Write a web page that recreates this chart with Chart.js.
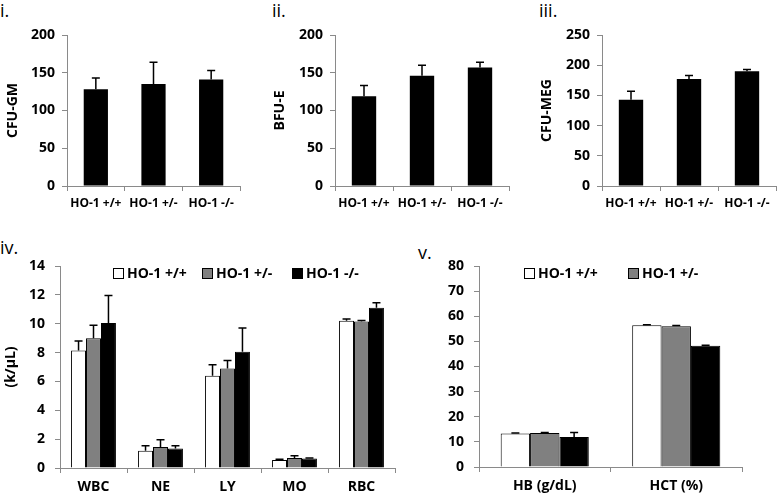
<!DOCTYPE html>
<html>
<head>
<meta charset="utf-8">
<script src="https://cdn.jsdelivr.net/npm/chart.js@4.4.1/dist/chart.umd.min.js"></script>
<style>
  body { margin: 0; background: #fff; width: 777px; height: 497px; position: relative; overflow: hidden; font-family: "Open Sans", sans-serif; }
  .panel { position: absolute; }
  .tag { position: absolute; font-size: 18px; line-height: 18px; color: #000; }
  .key { position: absolute; font-size: 14px; font-weight: bold; line-height: 14px; color: #000; white-space: nowrap; }
  .key i { display: inline-block; width: 9px; height: 9px; border: 1px solid #000; margin-right: 3px; vertical-align: -1px; }
</style>
</head>
<body>
<div class="tag" style="left:0;top:1px">i.</div>
<div class="tag" style="left:272px;top:1px">ii.</div>
<div class="tag" style="left:539px;top:1px">iii.</div>
<div class="tag" style="left:0;top:238px">iv.</div>
<div class="tag" style="left:418px;top:243px">v.</div>

<div class="panel" style="left:0;top:0"><canvas id="c1" width="255" height="225"></canvas></div>
<div class="panel" style="left:255px;top:0"><canvas id="c2" width="260" height="225"></canvas></div>
<div class="panel" style="left:510px;top:0"><canvas id="c3" width="267" height="225"></canvas></div>
<div class="panel" style="left:0;top:240px"><canvas id="c4" width="400" height="257"></canvas></div>
<div class="panel" style="left:380px;top:240px"><canvas id="c5" width="397" height="257"></canvas></div>
<div id="legend4"></div>
<div id="legend5"></div>

<script>
// genotypes
const genotypes = ['HO-1 +/+', 'HO-1 +/-', 'HO-1 -/-'];
const fills = ['#fff', '#808080', '#000'];

// i. colonies
const cfuGm = [128, 135, 141];
const cfuGmSd = [15, 29, 12];
// ii.
const bfuE = [119, 146, 157];
const bfuESd = [14, 14, 7];
// iii.
const cfuMeg = [143, 177, 190];
const cfuMegSd = [14, 6, 3];

// iv. blood counts
const cbcLabels = ['WBC', 'NE', 'LY', 'MO', 'RBC'];
const cbcWt = [8.15, 1.2, 6.4, 0.55, 10.2];
const cbcWtSd = [0.65, 0.35, 0.75, 0.05, 0.12];
const cbcHet = [9.0, 1.45, 6.9, 0.7, 10.15];
const cbcHetSd = [0.9, 0.5, 0.55, 0.15, 0.08];
const cbcKo = [10.05, 1.35, 8.05, 0.65, 11.1];
const cbcKoSd = [1.9, 0.2, 1.65, 0.05, 0.35];

// v.
const hbLabels = ['HB (g/dL)', 'HCT (%)'];
const hbWt = [13.3, 56.4];
const hbWtSd = [0.2, 0.2];
const hbHet = [13.5, 56.0];
const hbHetSd = [0.2, 0.3];
const hbKo = [11.9, 48.3];
const hbKoSd = [1.8, 0.2];

const AXIS = '#8a8a8a';
const FONT = '"Open Sans", sans-serif';

// draws the upward error bars
const errorBars = {
  id: 'errorBars',
  afterDatasetsDraw(chart) {
    const ctx = chart.ctx;
    const y = chart.scales.y;
    chart.data.datasets.forEach((ds, i) => {
      if (!ds.sd) return;
      const meta = chart.getDatasetMeta(i);
      meta.data.forEach((bar, j) => {
        const top = y.getPixelForValue(ds.data[j] + ds.sd[j]);
        ctx.save();
        ctx.strokeStyle = '#000';
        ctx.lineWidth = 1.5;
        ctx.beginPath();
        ctx.moveTo(bar.x, bar.y);
        ctx.lineTo(bar.x, top);
        ctx.moveTo(bar.x - 4, top);
        ctx.lineTo(bar.x + 4, top);
        ctx.stroke();
        ctx.restore();
      });
    });
  }
};

function makeChart(id, labels, datasets, o) {
  return new Chart(document.getElementById(id), {
    type: 'bar',
    data: { labels: labels, datasets: datasets },
    plugins: [errorBars],
    options: {
      responsive: false,
      animation: false,
      layout: { padding: { top: o.top, right: o.right, left: 0, bottom: 0 } },
      datasets: { bar: { categoryPercentage: o.cat, barPercentage: 1 } },
      plugins: {
        tooltip: { enabled: false },
        legend: { display: false }
      },
      scales: {
        x: {
          afterFit: s => { s.height = o.xh; },
          grid: { drawOnChartArea: false, color: AXIS, tickLength: 5, offset: true },
          border: { color: AXIS, width: 1 },
          ticks: { color: '#000', padding: o.xpad, font: { family: FONT, weight: 'bold', size: o.xfont } }
        },
        y: {
          min: 0, max: o.max,
          afterFit: s => { s.width = o.yw; },
          grid: { drawOnChartArea: false, color: AXIS, tickLength: 5 },
          border: { color: AXIS, width: 1 },
          ticks: { stepSize: o.step, color: '#000', padding: o.ypad, font: { family: FONT, weight: 'bold', size: 14 } },
          title: { display: !!o.title, text: o.title, color: '#000', padding: { top: o.tpad, bottom: 0 }, font: { family: FONT, weight: 'bold', size: 14 } }
        }
      }
    }
  });
}

function single(vals, sd) {
  return [{ data: vals, sd: sd, backgroundColor: '#000', borderWidth: 0 }];
}

makeChart('c1', genotypes, single(cfuGm, cfuGmSd),
  { top: 35, right: 15, cat: 0.42, xh: 39, xpad: 5, xfont: 12, max: 200, step: 50, yw: 67, ypad: 7, title: 'CFU-GM', tpad: 5 });
makeChart('c2', genotypes, single(bfuE, bfuESd),
  { top: 35, right: 6, cat: 0.42, xh: 39, xpad: 5, xfont: 12, max: 200, step: 50, yw: 80, ypad: 7, title: 'BFU-E', tpad: 17 });
makeChart('c3', genotypes, single(cfuMeg, cfuMegSd),
  { top: 35, right: 1, cat: 0.42, xh: 39, xpad: 5, xfont: 12, max: 250, step: 50, yw: 92, ypad: 7, title: 'CFU-MEG', tpad: 29 });

function triple(a, as, b, bs, c, cs) {
  return [a, b, c].map((d, k) => ({
    label: genotypes[k], data: d, sd: [as, bs, cs][k],
    backgroundColor: fills[k], borderColor: '#000', borderWidth: 1
  }));
}

const c4 = makeChart('c4', cbcLabels, triple(cbcWt, cbcWtSd, cbcHet, cbcHetSd, cbcKo, cbcKoSd),
  { top: 26, right: 5, cat: 0.67, xh: 29, xpad: 6, xfont: 14, max: 14, step: 2, yw: 60, ypad: 10, title: '(k/µL)', tpad: 3 });
const c5 = makeChart('c5', hbLabels, triple(hbWt, hbWtSd, hbHet, hbHetSd, hbKo, hbKoSd),
  { top: 26, right: 35, cat: 0.67, xh: 30, xpad: 6, xfont: 14, max: 80, step: 10, yw: 99, ypad: 10, title: '', tpad: 0 });

// legends (v. shows only the first two genotypes)
function buildLegend(el, chart, xs, top) {
  chart.data.datasets.slice(0, xs.length).forEach((ds, k) => {
    const d = document.createElement('div');
    d.className = 'key';
    d.style.left = xs[k] + 'px';
    d.style.top = top + 'px';
    d.innerHTML = '<i style="background:' + ds.backgroundColor + '"></i>' + ds.label;
    el.appendChild(d);
  });
}
buildLegend(document.getElementById('legend4'), c4, [113, 202, 292], 266);
buildLegend(document.getElementById('legend5'), c5, [524, 628], 266);
</script>
</body>
</html>
